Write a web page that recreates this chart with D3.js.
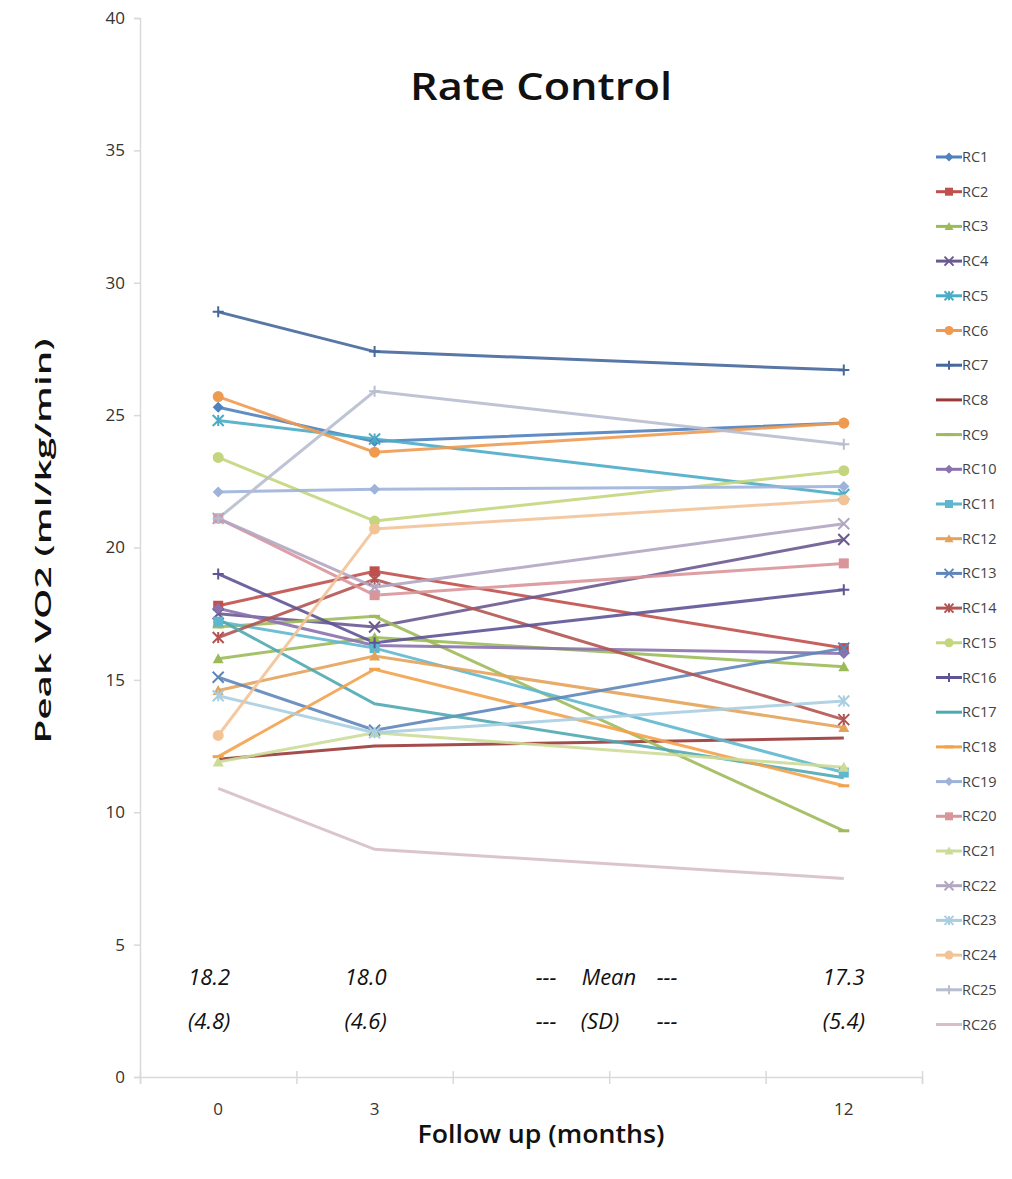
<!DOCTYPE html>
<html><head><meta charset="utf-8">
<script src="https://cdn.jsdelivr.net/npm/d3@7"></script>
<style>body{margin:0;background:#fff;} svg{display:block;}</style>
</head><body>
<svg id="c" width="1012" height="1179"></svg>
<script>
const months = [0, 3, 12];
const seriesNames = ["RC1","RC2","RC3","RC4","RC5","RC6","RC7","RC8","RC9","RC10","RC11","RC12","RC13","RC14","RC15","RC16","RC17","RC18","RC19","RC20","RC21","RC22","RC23","RC24","RC25","RC26"];
const RC1  = [25.3, 24.0, 24.7];
const RC2  = [17.8, 19.1, 16.2];
const RC3  = [15.8, 16.6, 15.5];
const RC4  = [17.5, 17.0, 20.3];
const RC5  = [24.8, 24.1, 22.0];
const RC6  = [25.7, 23.6, 24.7];
const RC7  = [28.9, 27.4, 26.7];
const RC8  = [12.0, 12.5, 12.8];
const RC9  = [17.0, 17.4, 9.3];
const RC10 = [17.7, 16.3, 16.0];
const RC11 = [17.2, 16.2, 11.5];
const RC12 = [14.6, 15.9, 13.2];
const RC13 = [15.1, 13.1, 16.2];
const RC14 = [16.6, 18.8, 13.5];
const RC15 = [23.4, 21.0, 22.9];
const RC16 = [19.0, 16.4, 18.4];
const RC17 = [17.3, 14.1, 11.3];
const RC18 = [12.1, 15.4, 11.0];
const RC19 = [22.1, 22.2, 22.3];
const RC20 = [21.1, 18.2, 19.4];
const RC21 = [11.9, 13.0, 11.7];
const RC22 = [21.1, 18.5, 20.9];
const RC23 = [14.4, 13.0, 14.2];
const RC24 = [12.9, 20.7, 21.8];
const RC25 = [21.1, 25.9, 23.9];
const RC26 = [10.9, 8.6, 7.5];
const allValues = [RC1,RC2,RC3,RC4,RC5,RC6,RC7,RC8,RC9,RC10,RC11,RC12,RC13,RC14,RC15,RC16,RC17,RC18,RC19,RC20,RC21,RC22,RC23,RC24,RC25,RC26];
const colors = ["#4F81BD","#C0504D","#9BBB59","#6B5A90","#4BACC6","#F09A50",
  "#46689C","#9A3A38","#9FBA5A","#8A72AE","#5FB7CF","#E4A25A",
  "#5F86BA","#B25552","#C3D67E","#5E5496","#4FA9B3","#F3A24C",
  "#9FB2DA","#D9959A","#CCDB98","#B3A6C2","#A9CEE0","#F3C398","#B8BED0","#D7BFC6"];
const markers = ["diamond","square","triangle","x","star","circle","plus","none","dash","diamond","square","triangle","x","star","circle","plus","none","dash","diamond","square","triangle","x","star","circle","plus","none"];
const yTicks = [0,5,10,15,20,25,30,35,40];
const xTickMarks = [-1.5, 1.5, 4.5, 7.5, 10.5, 13.5];
const xTickLabels = [0, 3, 12];
const meanText = ["18.2","18.0","17.3"];
const sdText = ["(4.8)","(4.6)","(5.4)"];

const svg = d3.select("#c");
const x = d3.scaleLinear().domain([-1.5, 13.5]).range([140, 922]);
const y = d3.scaleLinear().domain([0, 40]).range([1077, 18]);
const font = "'Open Sans', 'Noto Sans', sans-serif";

// axes
const yAxis = d3.axisLeft(y).tickValues(yTicks).tickSize(6).tickPadding(9);
const gy = svg.append("g").attr("transform","translate(140,0)").call(yAxis);
gy.select(".domain").attr("stroke","#d9d9d9").attr("stroke-width",1.5);
gy.selectAll(".tick line").attr("stroke","#d9d9d9").attr("stroke-width",1.5);
gy.selectAll(".tick text").attr("font-family",font).attr("font-size",17).attr("fill","#333");

const xAxis = d3.axisBottom(x).tickValues(xTickMarks).tickSize(7).tickFormat("");
const gx = svg.append("g").attr("transform","translate(0,1077)").call(xAxis);
gx.select(".domain").attr("stroke","#d9d9d9").attr("stroke-width",1.5);
gx.selectAll(".tick line").attr("stroke","#d9d9d9").attr("stroke-width",1.5).attr("y1",-6);
svg.append("g").selectAll("text").data(xTickLabels).join("text")
  .attr("x", d => x(d)).attr("y", 1115).attr("text-anchor","middle")
  .attr("font-family",font).attr("font-size",17).attr("fill","#333").text(d => d);

// title and axis titles
svg.append("text").attr("x",541).attr("y",100).attr("text-anchor","middle")
  .attr("font-family",font).attr("font-size",38).attr("font-weight",600).attr("fill","#111")
  .attr("textLength",262).attr("lengthAdjust","spacingAndGlyphs").text("Rate Control");
svg.append("text").attr("transform","translate(51,541) rotate(-90)").attr("text-anchor","middle")
  .attr("font-family",font).attr("font-size",22).attr("font-weight",600).attr("fill","#111")
  .attr("textLength",405).attr("lengthAdjust","spacingAndGlyphs").text("Peak VO2 (ml/kg/min)");
svg.append("text").attr("x",541).attr("y",1143).attr("text-anchor","middle")
  .attr("font-family",font).attr("font-size",25).attr("font-weight",600).attr("fill","#111")
  .attr("textLength",247).attr("lengthAdjust","spacingAndGlyphs").text("Follow up (months)");

// lines
const line = d3.line().x((d,i) => x(months[i])).y(d => y(d));
const gLines = svg.append("g");
allValues.forEach((vals, si) => {
  gLines.append("path").datum(vals).attr("d", line).attr("fill","none")
    .attr("stroke", colors[si]).attr("stroke-width", 3).attr("stroke-opacity",0.9);
});

function drawMarker(g, type, cx, cy, col, s) {
  s = s || 5;
  if (type === "diamond") g.append("path").attr("d",`M${cx},${cy-s}L${cx+s},${cy}L${cx},${cy+s}L${cx-s},${cy}Z`).attr("fill",col);
  else if (type === "square") g.append("rect").attr("x",cx-s+0.5).attr("y",cy-s+0.5).attr("width",2*s-1).attr("height",2*s-1).attr("fill",col);
  else if (type === "triangle") g.append("path").attr("d",`M${cx},${cy-s}L${cx+s},${cy+s-1}L${cx-s},${cy+s-1}Z`).attr("fill",col);
  else if (type === "circle") g.append("circle").attr("cx",cx).attr("cy",cy).attr("r",s).attr("fill",col);
  else if (type === "x") g.append("path").attr("d",`M${cx-s},${cy-s}L${cx+s},${cy+s}M${cx-s},${cy+s}L${cx+s},${cy-s}`).attr("stroke",col).attr("stroke-width",2);
  else if (type === "star") g.append("path").attr("d",`M${cx-s},${cy-s}L${cx+s},${cy+s}M${cx-s},${cy+s}L${cx+s},${cy-s}M${cx},${cy-s}L${cx},${cy+s}`).attr("stroke",col).attr("stroke-width",2);
  else if (type === "plus") g.append("path").attr("d",`M${cx-s},${cy}L${cx+s},${cy}M${cx},${cy-s}L${cx},${cy+s}`).attr("stroke",col).attr("stroke-width",2);
  else if (type === "dash") g.append("path").attr("d",`M${cx-s},${cy}L${cx+s},${cy}`).attr("stroke",col).attr("stroke-width",3);
}
const gMarks = svg.append("g");
allValues.forEach((vals, si) => {
  vals.forEach((v, i) => drawMarker(gMarks, markers[si], x(months[i]), y(v), colors[si], 5.5));
});

// annotations
const annoX = [0, 3, 12];
const annoStyle = sel => sel.attr("text-anchor","middle").attr("font-family",font)
  .attr("font-style","italic").attr("font-size",22).attr("fill","#111");
svg.append("g").selectAll("text").data(meanText).join("text")
  .attr("x",(d,i)=>x(annoX[i])-(i===2?0:9)).attr("y",985).call(annoStyle).text(d=>d);
svg.append("g").selectAll("text").data(sdText).join("text")
  .attr("x",(d,i)=>x(annoX[i])-(i===2?0:9)).attr("y",1029).call(annoStyle).text(d=>d);
const midRows = [["---","Mean","---",985,609],["---","(SD)","---",1029,600]];
midRows.forEach(r => {
  svg.append("text").attr("x",546).attr("y",r[3]).call(annoStyle).text(r[0]);
  svg.append("text").attr("x",r[4]).attr("y",r[3]).call(annoStyle).text(r[1]);
  svg.append("text").attr("x",667).attr("y",r[3]).call(annoStyle).text(r[2]);
});

// legend
const lg = svg.append("g");
seriesNames.forEach((name, i) => {
  const ly = 157 + i * 34.7;
  lg.append("line").attr("x1",936).attr("x2",962).attr("y1",ly).attr("y2",ly).attr("stroke",colors[i]).attr("stroke-width",3);
  drawMarker(lg, markers[i], 949, ly, colors[i], 4.5);
  lg.append("text").attr("x",962).attr("y",ly+5).attr("font-family",font).attr("font-size",14.5).attr("fill","#444").text(name);
});
</script>
</body></html>
